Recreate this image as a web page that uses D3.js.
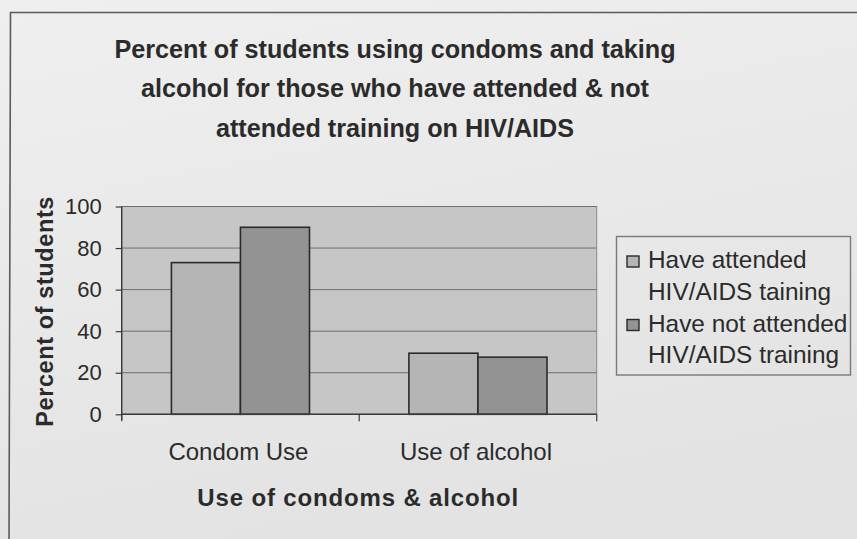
<!DOCTYPE html>
<html>
<head>
<meta charset="utf-8">
<script src="https://cdn.jsdelivr.net/npm/d3@7"></script>
<style>
  html, body { margin: 0; padding: 0; background: #e9e9e9; }
  svg { display: block; }
  text { font-family: "Liberation Sans", Arial, Helvetica, sans-serif; fill: #2b2b2b; }
</style>
</head>
<body>
<svg id="chart" width="857" height="539"></svg>
<script>
// Chart data
const categories = ["Condom Use", "Use of alcohol"];
const seriesNames = ["Have attended HIV/AIDS taining", "Have not attended HIV/AIDS training"];
const legendLines = [["Have attended", "HIV/AIDS taining"], ["Have not attended", "HIV/AIDS training"]];
const attendedValues = [73, 29.4];
const notAttendedValues = [90, 27.5];
const yTicks = [0, 20, 40, 60, 80, 100];
const titleLines = [
  "Percent of students using condoms and taking",
  "alcohol for those who have attended & not",
  "attended training on HIV/AIDS"
];
const xAxisTitle = "Use of condoms & alcohol";
const yAxisTitle = "Percent of students";

const seriesValues = [attendedValues, notAttendedValues];
const seriesFill = ["#b5b5b5", "#939393"];

const svg = d3.select("#chart");
const W = 857, H = 539;

// Page background with a faint shading
const defs = svg.append("defs");
const grad = defs.append("linearGradient").attr("id", "bg")
  .attr("x1", 0).attr("y1", 0).attr("x2", 0.3).attr("y2", 1);
grad.append("stop").attr("offset", "0%").attr("stop-color", "#efefef");
grad.append("stop").attr("offset", "100%").attr("stop-color", "#e3e3e3");
svg.append("rect").attr("width", W).attr("height", H).attr("fill", "url(#bg)");

// Chart frame (runs off the right and bottom edges)
svg.append("path")
  .attr("d", `M9,${H + 5} L10.5,12.5 L${W + 5},12.5`)
  .attr("fill", "none").attr("stroke", "#5a5a5a").attr("stroke-width", 1.6);

// Plot area
const plot = { left: 121.7, right: 596.7, top: 206.5, bottom: 414.3 };

const x0 = d3.scaleBand().domain(categories).range([plot.left, plot.right]).padding(0);
const x1 = d3.scaleBand().domain(seriesNames).range([0, x0.bandwidth()])
  .paddingInner(0).paddingOuter(0.72);
const y = d3.scaleLinear().domain([0, 100]).range([plot.bottom, plot.top]);

svg.append("rect")
  .attr("x", plot.left).attr("y", plot.top)
  .attr("width", plot.right - plot.left).attr("height", plot.bottom - plot.top)
  .attr("fill", "#c6c6c6").attr("stroke", "#8a8a8a").attr("stroke-width", 1);

// Horizontal gridlines
svg.append("g").selectAll("line")
  .data(yTicks.filter(d => d > 0))
  .join("line")
  .attr("x1", plot.left).attr("x2", plot.right)
  .attr("y1", d => y(d)).attr("y2", d => y(d))
  .attr("stroke", "#6f6f6f").attr("stroke-width", 1);

// Bars
const groups = svg.append("g").selectAll("g")
  .data(categories)
  .join("g")
  .attr("transform", d => `translate(${x0(d)},0)`);

groups.selectAll("rect")
  .data((c, ci) => seriesNames.map((s, si) => ({ s, si, v: seriesValues[si][ci] })))
  .join("rect")
  .attr("x", d => x1(d.s))
  .attr("width", x1.bandwidth())
  .attr("y", d => y(d.v))
  .attr("height", d => y(0) - y(d.v))
  .attr("fill", d => seriesFill[d.si])
  .attr("stroke", "#2a2a2a").attr("stroke-width", 1.6);

// Y axis
const yAxis = d3.axisLeft(y).tickValues(yTicks).tickSize(6).tickPadding(14);
const gy = svg.append("g").attr("transform", `translate(${plot.left},0)`).call(yAxis);
gy.select(".domain").attr("stroke", "#3a3a3a").attr("stroke-width", 1.4)
  .attr("d", `M0,${plot.top}V${plot.bottom + 6}`);
gy.selectAll(".tick line").attr("stroke", "#3a3a3a").attr("stroke-width", 1.2);
gy.selectAll(".tick text")
  .attr("font-size", 22).attr("fill", "#2e2e2e")
  .attr("font-family", "'Liberation Sans', Arial, sans-serif");

// X axis: ticks at the band boundaries
const xBounds = [plot.left, ...categories.slice(1).map(c => x0(c)), plot.right];
const gx = svg.append("g");
gx.append("line")
  .attr("x1", plot.left).attr("x2", plot.right)
  .attr("y1", plot.bottom).attr("y2", plot.bottom)
  .attr("stroke", "#3a3a3a").attr("stroke-width", 1.4);
gx.selectAll("line.tick")
  .data(xBounds)
  .join("line").attr("class", "tick")
  .attr("x1", d => d).attr("x2", d => d)
  .attr("y1", plot.bottom).attr("y2", plot.bottom + 7)
  .attr("stroke", "#3a3a3a").attr("stroke-width", 1.2);
gx.selectAll("text")
  .data(categories)
  .join("text")
  .attr("x", d => x0(d) + x0.bandwidth() / 2 - 2)
  .attr("y", 460)
  .attr("text-anchor", "middle")
  .attr("font-size", 24)
  .attr("fill", "#333")
  .text(d => d);

// Axis titles
svg.append("text")
  .attr("x", (plot.left + plot.right) / 2 - 1)
  .attr("y", 506)
  .attr("text-anchor", "middle")
  .attr("font-size", 24).attr("font-weight", "bold")
  .attr("letter-spacing", 0.85)
  .attr("fill", "#2a2a2a")
  .text(xAxisTitle);

svg.append("text")
  .attr("transform", `translate(53,${(plot.top + plot.bottom) / 2 + 1}) rotate(-90)`)
  .attr("text-anchor", "middle")
  .attr("font-size", 23.5).attr("font-weight", "bold")
  .attr("letter-spacing", 0.6)
  .attr("fill", "#2a2a2a")
  .text(yAxisTitle);

// Title
svg.append("g").selectAll("text")
  .data(titleLines)
  .join("text")
  .attr("x", 395)
  .attr("y", (d, i) => 57.5 + i * 39.6)
  .attr("text-anchor", "middle")
  .attr("font-size", 25.2).attr("font-weight", "bold")
  .attr("fill", "#262626")
  .text(d => d);

// Legend
const legend = svg.append("g");
legend.append("rect")
  .attr("x", 616.5).attr("y", 236.5).attr("width", 234).attr("height", 138.5)
  .attr("fill", "none").attr("stroke", "#7a7a7a").attr("stroke-width", 1.4);

const entries = legend.selectAll("g.entry")
  .data(seriesNames)
  .join("g").attr("class", "entry")
  .attr("transform", (d, i) => `translate(0,${i * 63.5})`);

entries.append("rect")
  .attr("x", 627).attr("y", 256)
  .attr("width", 12).attr("height", 11)
  .attr("fill", (d, i) => seriesFill[i])
  .attr("stroke", "#2a2a2a").attr("stroke-width", 1.4);

entries.append("text")
  .attr("x", 648).attr("y", 268)
  .attr("font-size", 24.4)
  .attr("fill", "#333")
  .selectAll("tspan")
  .data((d, i) => legendLines[i])
  .join("tspan")
  .attr("x", 648)
  .attr("dy", (d, j) => j === 0 ? 0 : 31.8)
  .text(d => d);
</script>
</body>
</html>
